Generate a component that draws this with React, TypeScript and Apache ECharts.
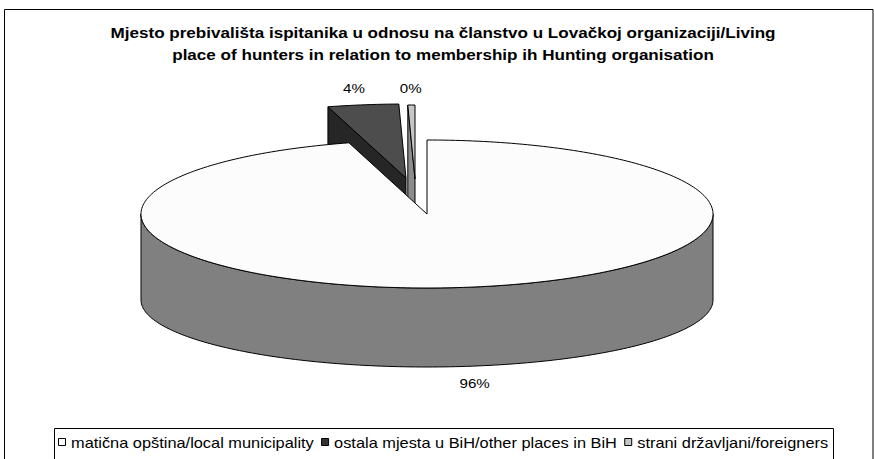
import React, { useEffect, useRef } from "react";
import * as echarts from "echarts";

// ---- data ----
const categories = [
  "matična opština/local municipality",
  "ostala mjesta u BiH/other places in BiH",
  "strani državljani/foreigners",
];
const shares = [95.6, 4.0, 0.4];
const titleLines = [
  "Mjesto prebivališta ispitanika u odnosu na članstvo u Lovačkoj organizaciji/Living",
  "place of hunters in relation to membership ih Hunting organisation",
];

// ---- styles ----
const topColors = ["#FCFCFC", "#4D4D4D", "#C6C6C6"];
const sideColors = ["#808080", "#262626", "#8C8C8C"];
const legendColors = ["#FFFFFF", "#333333", "#C6C6C6"];
const explode = [
  [0, 0],
  [-21, -36],
  [-12, -35],
];
const FONT = "'Liberation Sans', Arial, sans-serif";
const GEO = { cx: 427, cy: 214, rx: 286, ry: 74, cyb: 300, ryb: 67 };
const TITLE_SIZE = 14;
const TITLE_SCALE = 1.22;
const LEGEND_SIZE = 14;
const LEGEND_SCALE = 1.17;

const total = shares.reduce((a, b) => a + b, 0);

function measure(text: string, font: string) {
  const c = document.createElement("canvas").getContext("2d");
  if (!c) return text.length * 7;
  c.font = font;
  return c.measureText(text).width;
}

function makeRenderItem(i: number) {
  return (params: any, api: any) => {
    const value = api.value(0);
    let start = 0;
    for (let j = 0; j < i; j++) start += shares[j];
    const a0 = (start / total) * Math.PI * 2;
    const a1 = ((start + value) / total) * Math.PI * 2;
    const [dx, dy] = explode[i];
    const { cx, cy, rx, ry, cyb, ryb } = GEO;
    const top = (a: number) => [cx + dx + rx * Math.sin(a), cy + dy - ry * Math.cos(a)];
    const bot = (a: number) => [cx + dx + rx * Math.sin(a), cyb + dy - ryb * Math.cos(a)];
    const ctop = [cx + dx, cy + dy];
    const cbot = [cx + dx, cyb + dy];
    const arc = (f: (a: number) => number[], s: number, e: number) => {
      const n = Math.max(2, Math.ceil(Math.abs(e - s) / 0.02));
      const pts: number[][] = [];
      for (let k = 0; k <= n; k++) pts.push(f(s + ((e - s) * k) / n));
      return pts;
    };
    const stroke = { stroke: "#000", lineWidth: 1, lineJoin: "round" };
    const children: any[] = [];
    if (Math.sin(a0) < -1e-6) {
      children.push({
        type: "polygon",
        shape: { points: [ctop, top(a0), bot(a0), cbot] },
        style: { fill: sideColors[i], ...stroke },
      });
    }
    if (Math.sin(a1) > 1e-6) {
      children.push({
        type: "polygon",
        shape: { points: [ctop, top(a1), bot(a1), cbot] },
        style: { fill: sideColors[i], ...stroke },
      });
    }
    const w0 = Math.max(a0, Math.PI / 2);
    const w1 = Math.min(a1, (Math.PI * 3) / 2);
    if (w1 > w0) {
      const pts = arc(top, w0, w1).concat(arc(bot, w1, w0));
      children.push({
        type: "polygon",
        shape: { points: pts },
        style: { fill: sideColors[i], ...stroke },
      });
    }
    children.push({
      type: "polygon",
      shape: { points: [ctop].concat(arc(top, a0, a1)) },
      style: { fill: topColors[i], ...stroke },
    });
    const mid = (a0 + a1) / 2;
    const anchor = Math.cos(mid) > 0 ? top(mid) : bot(mid);
    children.push({
      type: "text",
      x: anchor[0] + 60 * Math.sin(mid),
      y: anchor[1] - 17 * Math.cos(mid),
      scaleX: 1.12,
      style: {
        text: Math.round((value / total) * 100) + "%",
        fontSize: 13.5,
        fontFamily: FONT,
        fill: "#000",
        align: "center",
        verticalAlign: "middle",
      },
    });
    return { type: "group", children };
  };
}

export default function App() {
  const ref = useRef<HTMLDivElement>(null);
  useEffect(() => {
    if (!ref.current) return;
    const chart = echarts.init(ref.current, undefined, { renderer: "svg" });
    const drawOrder = [1, 2, 0];

    const graphics: any[] = [
      {
        type: "rect",
        shape: { x: 4.5, y: 9.5, width: 868.5, height: 470 },
        style: { fill: "none", stroke: "#000", lineWidth: 1 },
        silent: true,
      },
      {
        type: "rect",
        shape: { x: 54.5, y: 428.5, width: 779, height: 50 },
        style: { fill: "none", stroke: "#000", lineWidth: 1 },
        silent: true,
      },
    ];
    titleLines.forEach((t, k) => {
      graphics.push({
        type: "text",
        x: 443,
        y: 33 + k * 22,
        scaleX: TITLE_SCALE,
        silent: true,
        style: {
          text: t,
          fontSize: TITLE_SIZE,
          fontWeight: "bold",
          fontFamily: FONT,
          fill: "#000",
          align: "center",
          verticalAlign: "middle",
        },
      });
    });
    // legend
    const legendFont = `${LEGEND_SIZE}px ${FONT}`;
    let lx = 58;
    const ly = 443;
    categories.forEach((c, i) => {
      graphics.push({
        type: "rect",
        shape: { x: lx + 0.5, y: ly - 4.5, width: 7, height: 7 },
        style: { fill: legendColors[i], stroke: "#000", lineWidth: 1 },
        silent: true,
      });
      const tx = lx + 13;
      graphics.push({
        type: "text",
        x: tx,
        y: ly,
        scaleX: LEGEND_SCALE,
        silent: true,
        style: {
          text: c,
          fontSize: LEGEND_SIZE,
          fontFamily: FONT,
          fill: "#000",
          align: "left",
          verticalAlign: "middle",
        },
      });
      lx = tx + measure(c, legendFont) * LEGEND_SCALE + 7;
    });

    chart.setOption({
      animation: false,
      backgroundColor: "#fff",
      graphic: graphics,
      series: drawOrder.map((i) => ({
        type: "custom",
        name: categories[i],
        coordinateSystem: "none",
        silent: true,
        itemStyle: { color: topColors[i] },
        renderItem: makeRenderItem(i),
        data: [[shares[i]]],
      })),
    });
    return () => chart.dispose();
  }, []);
  return (
    <div
      ref={ref}
      style={{ position: "absolute", left: 0, top: 0, width: 874, height: 459, background: "#fff" }}
    />
  );
}
